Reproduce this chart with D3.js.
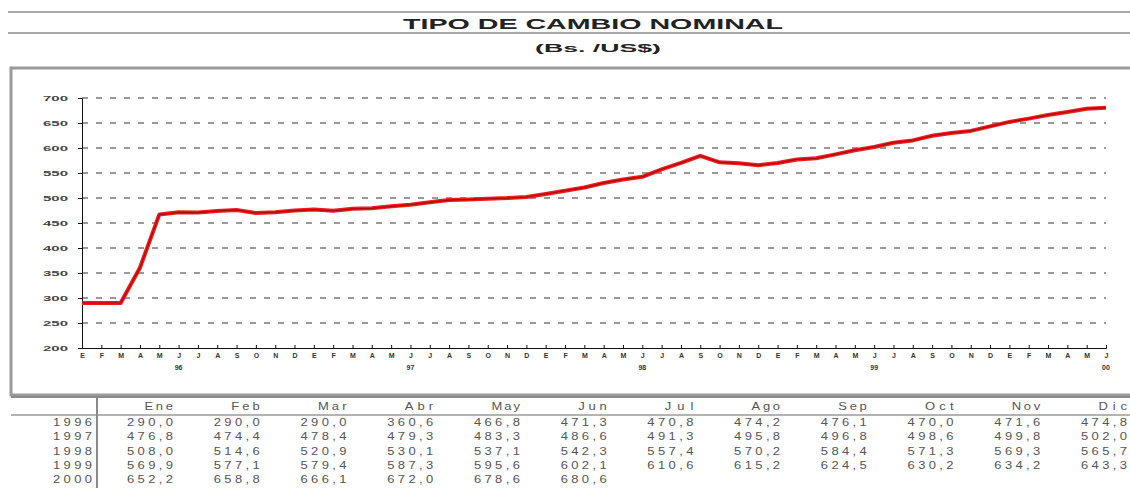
<!DOCTYPE html>
<html>
<head>
<meta charset="utf-8">
<script src="https://cdn.jsdelivr.net/npm/d3@7"></script>
<style>
  body { margin: 0; background: #fff; }
  svg { display: block; font-family: "Liberation Sans", Arial, sans-serif; }
</style>
</head>
<body>
<div id="chart"></div>
<script>
// Monthly data (Bs./US$)
const months = ["Ene", "Feb", "Mar", "Abr", "May", "Jun", "Jul", "Ago", "Sep", "Oct", "Nov", "Dic"];
const years = ["1996", "1997", "1998", "1999", "2000"];
const v1996 = [290.0, 290.0, 290.0, 360.6, 466.8, 471.3, 470.8, 474.2, 476.1, 470.0, 471.6, 474.8];
const v1997 = [476.8, 474.4, 478.4, 479.3, 483.3, 486.6, 491.3, 495.8, 496.8, 498.6, 499.8, 502.0];
const v1998 = [508.0, 514.6, 520.9, 530.1, 537.1, 542.3, 557.4, 570.2, 584.4, 571.3, 569.3, 565.7];
const v1999 = [569.9, 577.1, 579.4, 587.3, 595.6, 602.1, 610.6, 615.2, 624.5, 630.2, 634.2, 643.3];
const v2000 = [652.2, 658.8, 666.1, 672.0, 678.6, 680.6];
const rows = [v1996, v1997, v1998, v1999, v2000];

const monthLetters = ["E", "F", "M", "A", "M", "J", "J", "A", "S", "O", "N", "D"];
const yearLabels = ["96", "97", "98", "99", "00"];
const yTicks = [200, 250, 300, 350, 400, 450, 500, 550, 600, 650, 700];

const W = 1130, H = 488;
const svg = d3.select("#chart").append("svg").attr("width", W).attr("height", H);

// flatten into one monthly series
const series = [];
rows.forEach((r) => r.forEach((v) => series.push({ i: series.length, v: v })));

const x = d3.scaleLinear().domain([0, 53]).range([82, 1106]);
const y = d3.scaleLinear().domain([200, 700]).range([348, 98]);

// header lines and title
[12, 33].forEach((yy) => {
  svg.append("line").attr("x1", 8).attr("x2", W).attr("y1", yy).attr("y2", yy)
    .attr("stroke", "#a8a8a8").attr("stroke-width", 2);
});
svg.append("text").attr("x", 593).attr("y", 29).attr("text-anchor", "middle")
  .attr("font-size", 14).attr("font-weight", "bold").attr("fill", "#222")
  .attr("textLength", 380).attr("lengthAdjust", "spacingAndGlyphs")
  .text("TIPO DE CAMBIO NOMINAL");
svg.append("text").attr("x", 598).attr("y", 52).attr("text-anchor", "middle")
  .attr("font-size", 11).attr("font-weight", "bold").attr("fill", "#222")
  .attr("textLength", 126).attr("lengthAdjust", "spacingAndGlyphs")
  .text("(Bs. /US$)");

// chart frame
svg.append("rect").attr("x", 11).attr("y", 68).attr("width", W).attr("height", 327)
  .attr("fill", "none").attr("stroke", "#9a9a9a").attr("stroke-width", 3);

// dashed gridlines
svg.append("g").selectAll("line").data(yTicks.filter((t) => t > 200)).join("line")
  .attr("x1", x(0)).attr("x2", x(53))
  .attr("y1", (d) => y(d)).attr("y2", (d) => y(d))
  .attr("stroke", "#7a7a7a").attr("stroke-width", 1.3).attr("stroke-dasharray", "6,8");

// y axis
const yAxis = svg.append("g").attr("transform", `translate(${x(0)},0)`)
  .call(d3.axisLeft(y).tickValues(yTicks).tickSize(4).tickPadding(10));
yAxis.select(".domain").attr("stroke", "#111");
yAxis.selectAll("line").attr("stroke", "#111");
yAxis.selectAll("text").attr("font-size", 8).attr("font-weight", "bold").attr("fill", "#444")
  .attr("textLength", 25).attr("lengthAdjust", "spacingAndGlyphs");

// x axis with month letters
const xAxis = svg.append("g").attr("transform", `translate(0,${y(200)})`)
  .call(d3.axisBottom(x).tickValues(d3.range(54)).tickSize(-3).tickPadding(5)
    .tickFormat((i) => monthLetters[i % 12]));
xAxis.select(".domain").attr("stroke", "#111");
xAxis.selectAll("line").attr("stroke", "#111");
xAxis.selectAll("text").attr("font-size", 7).attr("font-weight", "bold").attr("fill", "#333");

// year labels under June of each year
svg.append("g").selectAll("text").data(yearLabels).join("text")
  .attr("x", (d, k) => x(k * 12 + 5)).attr("y", 370).attr("text-anchor", "middle")
  .attr("font-size", 7).attr("font-weight", "bold").attr("fill", "#333")
  .text((d) => d);

// the exchange rate line
const line = d3.line().x((d) => x(d.i)).y((d) => y(d.v));
svg.append("path").datum(series).attr("d", line)
  .attr("fill", "none").attr("stroke", "#ee1c1c").attr("stroke-width", 4)
  .attr("stroke-linejoin", "round");
svg.append("path").datum(series).attr("d", line)
  .attr("fill", "none").attr("stroke", "#b00808").attr("stroke-width", 1.2)
  .attr("stroke-linejoin", "round");

// data table
const col = d3.scalePoint().domain(months).range([173, 1127]);
const rowY = d3.scalePoint().domain(years).range([426, 483]);
const fmt = (v) => d3.format(".1f")(v).replace(".", ",");
const sx = 1.3; // the table glyphs are drawn wide

svg.append("line").attr("x1", 11).attr("x2", W).attr("y1", 397).attr("y2", 397)
  .attr("stroke", "#8a8a8a").attr("stroke-width", 2);
svg.append("line").attr("x1", 11).attr("x2", W).attr("y1", 415).attr("y2", 415)
  .attr("stroke", "#9a9a9a").attr("stroke-width", 1.5);
svg.append("line").attr("x1", 97).attr("x2", 97).attr("y1", 397).attr("y2", H)
  .attr("stroke", "#8a8a8a").attr("stroke-width", 2);

const table = svg.append("g").attr("font-size", 10).attr("fill", "#555").attr("text-anchor", "end");
table.selectAll("text.head").data(months).join("text").attr("class", "head")
  .attr("transform", (d) => `translate(${col(d)},410) scale(${sx},1)`)
  .attr("textLength", (d) => (d.length * 9.5) / sx).attr("lengthAdjust", "spacing")
  .text((d) => d);
table.selectAll("text.year").data(years).join("text").attr("class", "year")
  .attr("transform", (d) => `translate(92,${rowY(d)}) scale(${sx},1)`)
  .attr("textLength", 39 / sx).attr("lengthAdjust", "spacing")
  .text((d) => d);
rows.forEach((r, k) => {
  table.append("g").selectAll("text").data(r).join("text")
    .attr("transform", (d, m) => `translate(${col(months[m])},${rowY(years[k])}) scale(${sx},1)`)
    .attr("textLength", 46 / sx).attr("lengthAdjust", "spacing")
    .text((d) => fmt(d));
});
</script>
</body>
</html>
